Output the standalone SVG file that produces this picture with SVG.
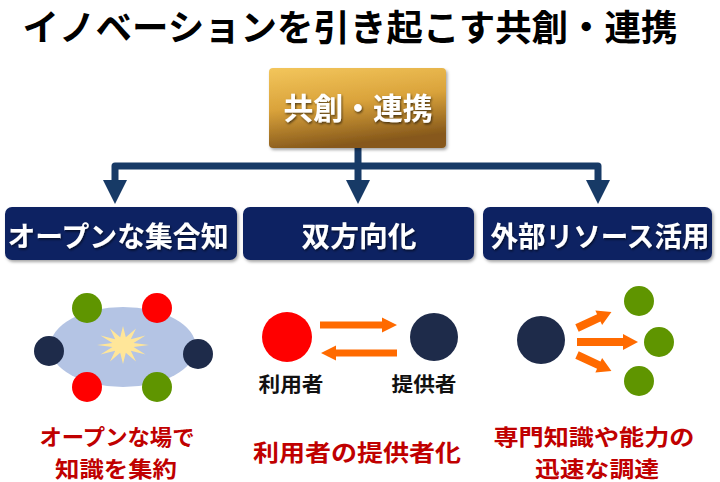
<svg xmlns="http://www.w3.org/2000/svg" width="720" height="482" viewBox="0 0 720 482">
<defs>
<linearGradient id="gold" x1="0" y1="0" x2="0.25" y2="1">
<stop offset="0" stop-color="#f3c65c"/>
<stop offset="0.5" stop-color="#daa33b"/>
<stop offset="1" stop-color="#87591b"/>
</linearGradient>
<filter id="sh" x="-10%" y="-10%" width="125%" height="130%">
<feDropShadow dx="1.5" dy="2" stdDeviation="1.5" flood-color="#000" flood-opacity="0.35"/>
</filter>
<filter id="tsh" x="-10%" y="-10%" width="125%" height="130%">
<feDropShadow dx="1" dy="1.5" stdDeviation="0.8" flood-color="#000" flood-opacity="0.6"/>
</filter>
</defs>
<style>
text{font-family:"Noto Sans CJK JP","Noto Sans",sans-serif;font-weight:bold;text-anchor:middle;dominant-baseline:central}
.title{font-size:36px;fill:#000}
.box{fill:#0f2262;filter:url(#sh)}
.btxt{font-size:28px;fill:#fff;filter:url(#tsh)}
.lbl{font-size:20px;fill:#111}
.note{font-size:23px;fill:#c00000}
.note2{font-size:22px;fill:#c00000}
.conn{fill:none;stroke:#173a66;stroke-width:7;stroke-linejoin:round}
.red{fill:#ff0000}.navy{fill:#1e2b4a}.green{fill:#5f9500}
.or{fill:#ff6a00}
</style>
<g id="title"><text class="title" x="350" y="25" textLength="655" lengthAdjust="spacingAndGlyphs">イノベーションを引き起こす共創・連携</text></g>
<g id="connectors">
<path class="conn" d="M358,147 V166"/>
<path class="conn" d="M115,181 V166 H598 V181"/>
<path class="conn" d="M358,166 V181"/>
<polygon points="103,180 127,180 115,204" fill="#173a66"/>
<polygon points="346,180 370,180 358,204" fill="#173a66"/>
<polygon points="586,180 610,180 598,204" fill="#173a66"/>
</g>
<g id="node-top">
<rect x="269" y="68" width="177" height="80" rx="4" fill="url(#gold)" filter="url(#sh)"/>
<text class="btxt" x="358" y="106" style="font-size:30px" textLength="149" lengthAdjust="spacingAndGlyphs">共創・連携</text>
</g>
<g id="node-open">
<rect class="box" x="5" y="207" width="232" height="53" rx="7"/>
<text class="btxt" x="118" y="235" textLength="221" lengthAdjust="spacingAndGlyphs">オープンな集合知</text>
</g>
<g id="node-bidir">
<rect class="box" x="243" y="207" width="231" height="53" rx="7"/>
<text class="btxt" x="359" y="235" textLength="115" lengthAdjust="spacingAndGlyphs">双方向化</text>
</g>
<g id="node-ext">
<rect class="box" x="483" y="207" width="229" height="53" rx="7"/>
<text class="btxt" x="600" y="235" textLength="219" lengthAdjust="spacingAndGlyphs">外部リソース活用</text>
</g>
<g id="illus-open">
<ellipse cx="123" cy="347" rx="73" ry="40" fill="#b4c4e4"/>
<polygon fill="#ffe699" points="149,345 133.6,347.1 145.5,354.5 130.8,350.7 136,361.5 125.8,352.7 123,364 120.2,352.7 110,361.5 115.2,350.7 100.5,354.5 112.4,347.1 97,345 112.4,342.9 100.5,335.5 115.2,339.3 110,328.5 120.2,337.3 123,326 125.8,337.3 136,328.5 130.8,339.3 145.5,335.5 133.6,342.9"/>
<circle class="green" cx="87" cy="308" r="15"/>
<circle class="red" cx="157" cy="308" r="15"/>
<circle class="navy" cx="49" cy="351" r="15"/>
<circle class="navy" cx="198" cy="354" r="15"/>
<circle class="red" cx="87" cy="387" r="15"/>
<circle class="green" cx="157" cy="387" r="15"/>
</g>
<g id="illus-bidir">
<circle class="red" cx="287" cy="337" r="25"/>
<circle class="navy" cx="434" cy="337" r="24"/>
<polygon class="or" points="320,321.5 382,321.5 382,317.5 397,325 382,332.5 382,328.5 320,328.5"/>
<polygon class="or" points="397,349.5 336,349.5 336,345.5 321,353 336,360.5 336,356.5 397,356.5"/>
<text class="lbl" x="291" y="383" textLength="65" lengthAdjust="spacingAndGlyphs">利用者</text>
<text class="lbl" x="424" y="383" textLength="65" lengthAdjust="spacingAndGlyphs">提供者</text>
</g>
<g id="illus-ext">
<circle class="navy" cx="541" cy="340" r="24"/>
<circle class="green" cx="639" cy="301" r="15"/>
<circle class="green" cx="659" cy="342" r="15"/>
<circle class="green" cx="639" cy="381" r="15"/>
<g transform="translate(577,328) rotate(-25)"><polygon class="or" points="0,-4 24,-4 24,-8 38,0 24,8 24,4 0,4"/></g>
<g transform="translate(577,342)"><polygon class="or" points="0,-4 46,-4 46,-8 61,0 46,8 46,4 0,4"/></g>
<g transform="translate(577,355) rotate(25)"><polygon class="or" points="0,-4 24,-4 24,-8 38,0 24,8 24,4 0,4"/></g>
</g>
<g id="notes">
<text class="note2" x="117" y="435" textLength="155" lengthAdjust="spacingAndGlyphs">オープンな場で</text>
<text class="note2" x="116" y="467" textLength="122" lengthAdjust="spacingAndGlyphs">知識を集約</text>
<text class="note" x="357" y="451" textLength="208" lengthAdjust="spacingAndGlyphs">利用者の提供者化</text>
<text class="note2" x="594" y="435" textLength="201" lengthAdjust="spacingAndGlyphs">専門知識や能力の</text>
<text class="note2" x="597" y="467" textLength="124" lengthAdjust="spacingAndGlyphs">迅速な調達</text>
</g>
</svg>
